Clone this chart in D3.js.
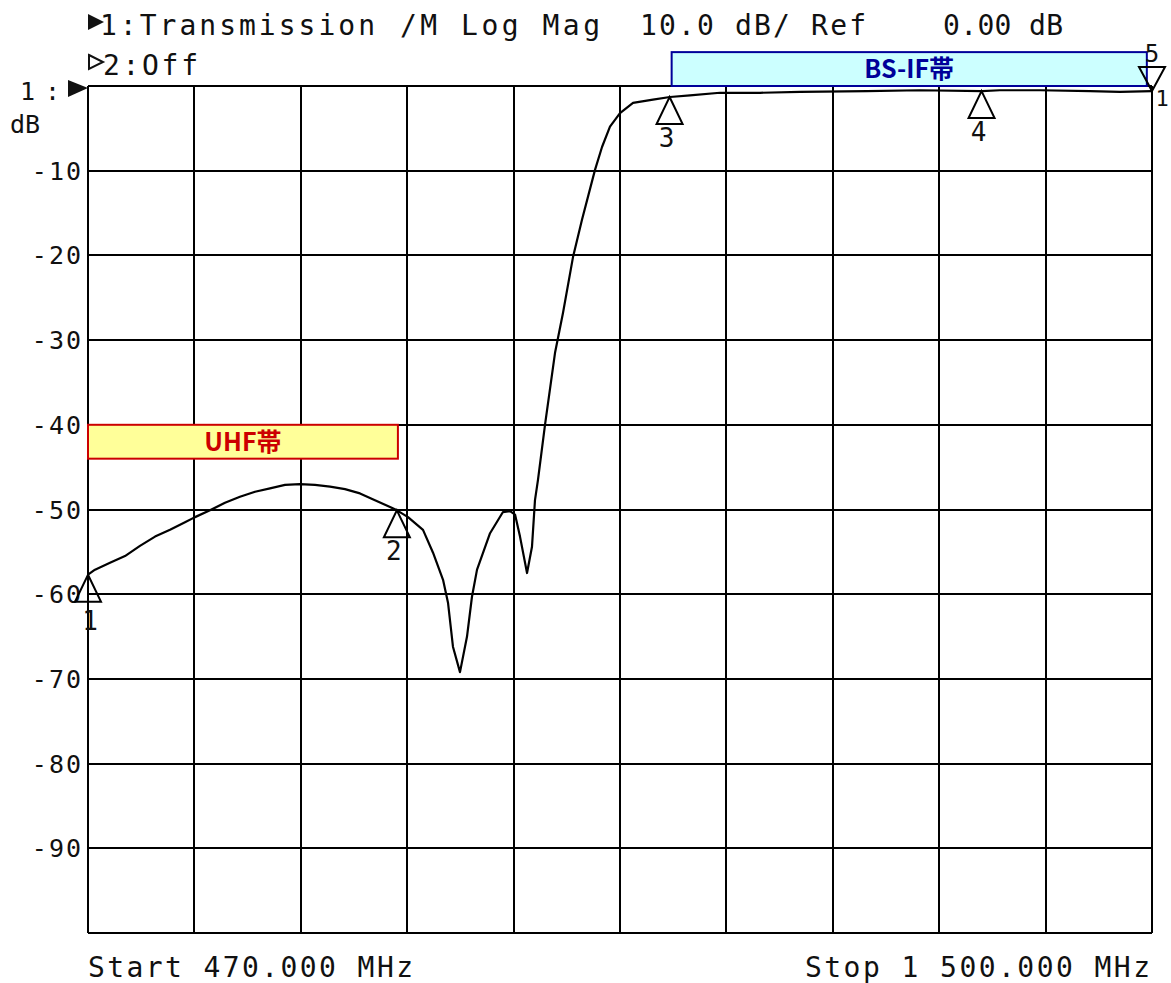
<!DOCTYPE html>
<html>
<head>
<meta charset="utf-8">
<script src="https://cdn.jsdelivr.net/npm/d3@7"></script>
<style>
body { margin: 0; background: #fff; }
svg { display: block; }
text { font-family: "DejaVu Sans Mono", "Liberation Mono", monospace; fill: #111; }
</style>
</head>
<body>
<svg id="chart" width="1171" height="983"></svg>
<script>
// trace (MHz, dB)
var traceFreq = [470, 476.8, 491.3, 505.8, 520.3, 534.9, 549.4, 563.9, 573.6, 588.1,
  602.6, 617.1, 631.7, 646.2, 660.7, 675.2, 689.7, 704.3, 718.8, 733.3,
  747.8, 762.4, 769.1, 779.8, 794.3, 804.0, 813.7, 818.5, 823.3, 830.1,
  836.9, 841.7, 846.6, 859.2, 871.7, 878.5, 883.4, 888.2, 895.0, 899.8,
  902.7, 905.6, 912.4, 922.1, 929.8, 939.5, 948.2, 960.8, 967.6, 975.3,
  985.0, 997.6, 1016.9, 1033.4, 1052.8, 1081.8, 1120.5, 1159.3, 1224.1, 1275.4,
  1335.4, 1352.8, 1391.6, 1440.0, 1469.0, 1500];
var traceDb = [-57.7, -57.1, -56.3, -55.5, -54.3, -53.2, -52.4, -51.5, -50.9, -50.1,
  -49.2, -48.5, -47.9, -47.5, -47.1, -47.0, -47.1, -47.3, -47.6, -48.1,
  -48.9, -49.7, -50.1, -50.9, -52.4, -55.1, -58.3, -61.0, -66.2, -69.2,
  -65.0, -60.3, -57.1, -52.8, -50.3, -50.2, -50.6, -53.2, -57.5, -54.4,
  -48.9, -46.5, -40.0, -31.5, -26.8, -20.2, -15.8, -9.9, -7.2, -4.8,
  -3.2, -2.0, -1.6, -1.3, -1.1, -0.8, -0.8, -0.7, -0.6, -0.5,
  -0.6, -0.5, -0.5, -0.6, -0.7, -0.6];

var yTicks = [-10, -20, -30, -40, -50, -60, -70, -80, -90];

var markerNames = ["1", "2", "3", "4"];
var markerFreq = [470, 769, 1033, 1335];
var markerDb = [-57.7, -50.1, -1.3, -0.6];
// marker 5 sits at the stop frequency, drawn upside down
var marker5Freq = 1500, marker5Db = -0.6;

var bandNames = ["UHF帯", "BS-IF帯"];
var bandStart = [470, 1035];
var bandStop = [770, 1495];
var bandTop = [-40, 4];
var bandBottom = [-44, 0];
var bandFill = ["#ffff99", "#ccffff"];
var bandInk = ["#cc0000", "#000099"];

var startMHz = 470, stopMHz = 1500;

var svg = d3.select("#chart");

var x = d3.scaleLinear().domain([startMHz, stopMHz]).range([88, 1152]);
var y = d3.scaleLinear().domain([0, -100]).range([86, 933]);

// grid
var grid = svg.append("g").attr("class", "grid")
  .attr("stroke", "#000").attr("stroke-width", 2)
  .attr("shape-rendering", "crispEdges");

grid.selectAll("line.v")
  .data(d3.range(11).map(function(i) { return startMHz + i * (stopMHz - startMHz) / 10; }))
  .enter().append("line")
  .attr("class", "v")
  .attr("x1", function(d) { return Math.round(x(d)); })
  .attr("x2", function(d) { return Math.round(x(d)); })
  .attr("y1", y(0)).attr("y2", y(-100));

grid.selectAll("line.h")
  .data(d3.range(0, -101, -10))
  .enter().append("line")
  .attr("class", "h")
  .attr("x1", x(startMHz)).attr("x2", x(stopMHz))
  .attr("y1", function(d) { return Math.round(y(d)); })
  .attr("y2", function(d) { return Math.round(y(d)); });

// y labels
svg.append("g").selectAll("text")
  .data(yTicks)
  .enter().append("text")
  .attr("x", 83)
  .attr("y", function(d) { return y(d) + 9; })
  .attr("text-anchor", "end")
  .attr("font-size", 25)
  .attr("letter-spacing", 2)
  .text(function(d) { return d; });

// trace
var pts = traceFreq.map(function(f, i) { return [f, traceDb[i]]; });
var line = d3.line()
  .x(function(d) { return x(d[0]); })
  .y(function(d) { return y(d[1]); });

svg.append("path")
  .datum(pts)
  .attr("d", line)
  .attr("fill", "none")
  .attr("stroke", "#000")
  .attr("stroke-width", 2.2)
  .attr("stroke-linejoin", "round");

// band boxes
var bands = svg.append("g").selectAll("g")
  .data(bandNames)
  .enter().append("g");

bands.append("rect")
  .attr("x", function(d, i) { return x(bandStart[i]); })
  .attr("y", function(d, i) { return y(bandTop[i]); })
  .attr("width", function(d, i) { return x(bandStop[i]) - x(bandStart[i]); })
  .attr("height", function(d, i) { return y(bandBottom[i]) - y(bandTop[i]); })
  .attr("fill", function(d, i) { return bandFill[i]; })
  .attr("stroke", function(d, i) { return bandInk[i]; })
  .attr("stroke-width", 2);

bands.append("text")
  .attr("x", function(d, i) { return (x(bandStart[i]) + x(bandStop[i])) / 2; })
  .attr("y", function(d, i) { return (y(bandTop[i]) + y(bandBottom[i])) / 2 + 9; })
  .attr("text-anchor", "middle")
  .attr("font-size", 25)
  .attr("font-weight", "bold")
  .style("font-family", "'Noto Sans CJK JP', 'Noto Sans', sans-serif")
  .style("fill", function(d, i) { return bandInk[i]; })
  .text(function(d) { return d; });

// markers
var mk = svg.append("g").selectAll("g")
  .data(markerNames)
  .enter().append("g")
  .attr("transform", function(d, i) { return "translate(" + x(markerFreq[i]) + "," + y(markerDb[i]) + ")"; });

mk.append("path")
  .attr("d", "M0,0L13,27L-13,27Z")
  .attr("fill", "none")
  .attr("stroke", "#000")
  .attr("stroke-width", 2);

mk.append("text")
  .attr("x", function(d, i) { return i === 0 ? 2 : -3; })
  .attr("y", function(d, i) { return i === 0 ? 55 : 50; })
  .attr("text-anchor", "middle")
  .attr("font-size", 26)
  .text(function(d) { return d; });

var m5 = svg.append("g")
  .attr("transform", "translate(" + x(marker5Freq) + "," + y(marker5Db) + ")");
m5.append("path")
  .attr("d", "M0,0L13,-24L-13,-24Z")
  .attr("fill", "none")
  .attr("stroke", "#000")
  .attr("stroke-width", 2);
m5.append("text").attr("x", 0).attr("y", -29).attr("font-size", 24).attr("text-anchor", "middle").text("5");
m5.append("text").attr("x", 10).attr("y", 15).attr("font-size", 22).attr("text-anchor", "middle").text("1");

// header
svg.append("path").attr("d", "M88,14L104,22L88,30Z").attr("fill", "#111");
svg.append("text").attr("x", 100).attr("y", 35).attr("font-size", 28)
  .attr("textLength", 275).attr("lengthAdjust", "spacing").text("1:Transmission");
svg.append("text").attr("x", 400).attr("y", 35).attr("font-size", 28)
  .attr("textLength", 200).attr("lengthAdjust", "spacing").text("/M Log Mag");
svg.append("text").attr("x", 640).attr("y", 35).attr("font-size", 28)
  .attr("textLength", 226).attr("lengthAdjust", "spacing").text("10.0 dB/ Ref");
svg.append("text").attr("x", 943).attr("y", 35).attr("font-size", 28)
  .attr("textLength", 120).attr("lengthAdjust", "spacing").text("0.00 dB");

svg.append("path").attr("d", "M89,55L103,62L89,69Z").attr("fill", "none").attr("stroke", "#111").attr("stroke-width", 2);
svg.append("text").attr("x", 103).attr("y", 75).attr("font-size", 28)
  .attr("textLength", 95).attr("lengthAdjust", "spacing").text("2:Off");

// reference pointer
svg.append("text").attr("x", 20).attr("y", 100).attr("font-size", 25)
  .attr("textLength", 40).attr("lengthAdjust", "spacing").text("1:");
svg.append("path").attr("d", "M68,80L88,88L68,97Z").attr("fill", "#111");
svg.append("text").attr("x", 10).attr("y", 133).attr("font-size", 25)
  .attr("textLength", 30).attr("lengthAdjust", "spacing").text("dB");

// footer
svg.append("text").attr("x", 88).attr("y", 977).attr("font-size", 28)
  .attr("textLength", 325).attr("lengthAdjust", "spacing").text("Start " + startMHz + ".000 MHz");
svg.append("text").attr("x", 805).attr("y", 977).attr("font-size", 28)
  .attr("textLength", 345).attr("lengthAdjust", "spacing").text("Stop 1 500.000 MHz");
</script>
</body>
</html>
